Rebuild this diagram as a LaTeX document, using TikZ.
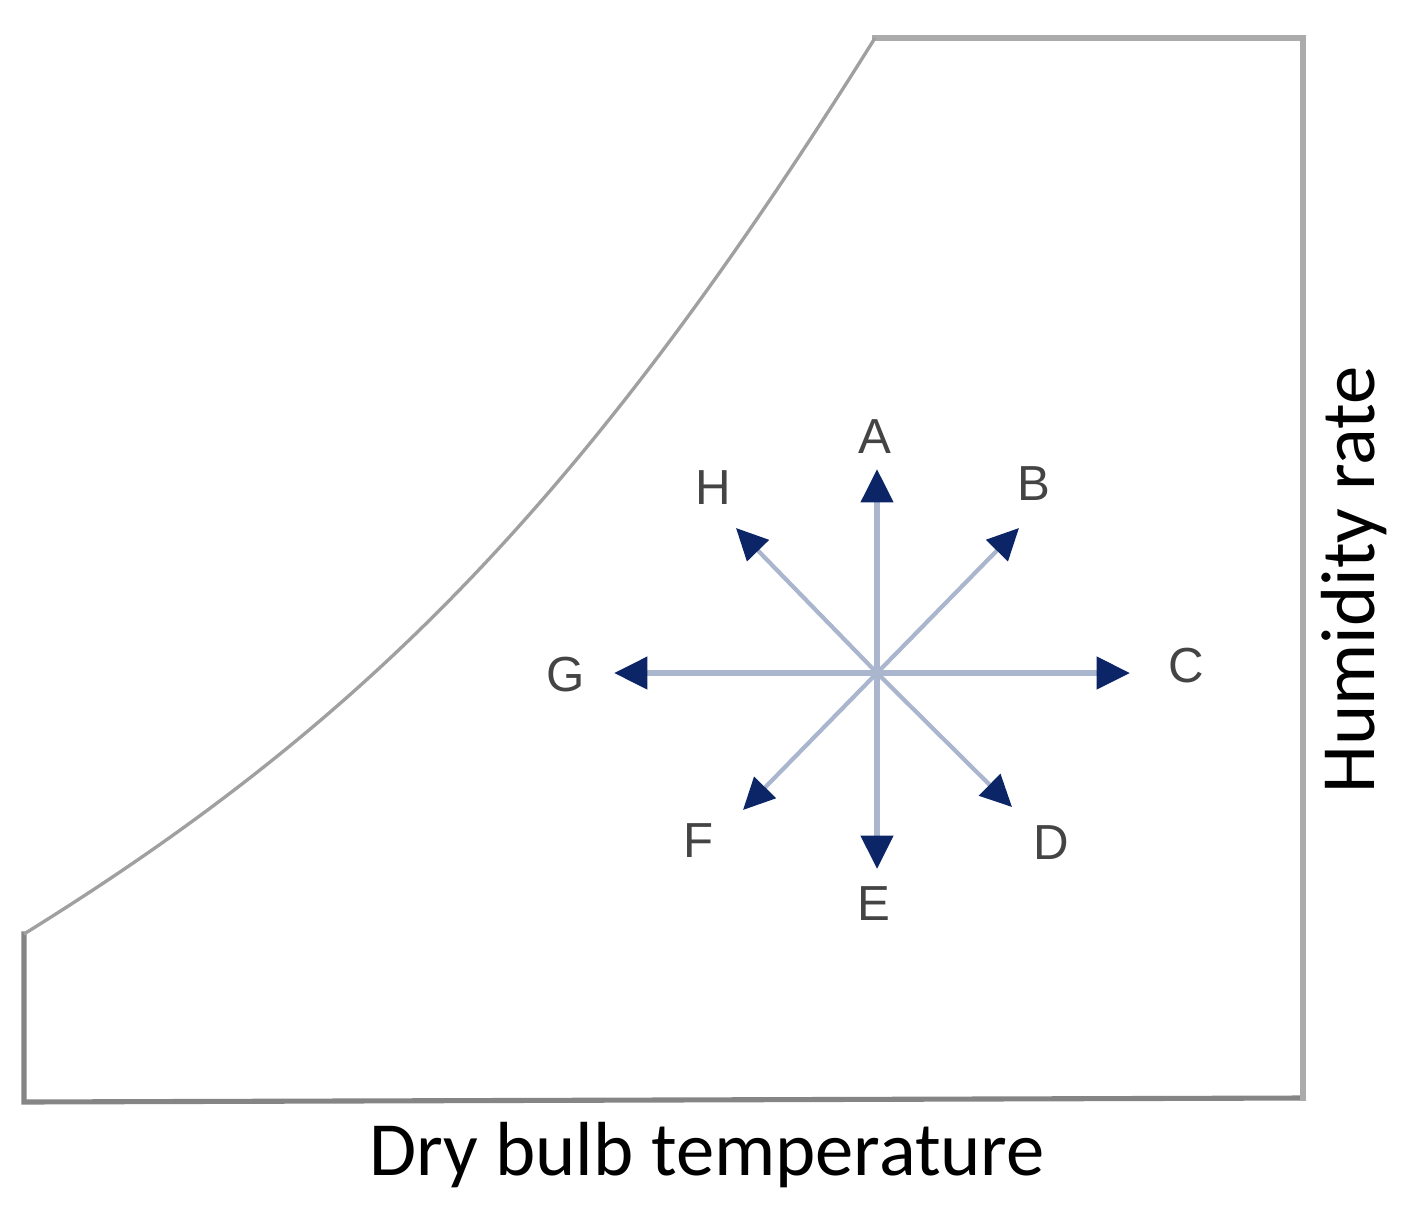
\documentclass[tikz,border=0pt]{standalone}
\usepackage{fontspec}
\setmainfont{Liberation Sans}
\newfontfamily\calib{Carlito}
\usetikzlibrary{arrows.meta}
\definecolor{framedark}{HTML}{858585}
\definecolor{framelight}{HTML}{ABABAB}
\definecolor{curvegray}{HTML}{A0A0A0}
\definecolor{arrowline}{HTML}{A9B6CE}
\definecolor{arrowhead}{HTML}{0B2566}
\definecolor{labgray}{HTML}{444444}
\tikzset{
  edgedark/.style={draw=framedark, line width=1.45pt, line cap=rect},
  edgelight/.style={draw=framelight, line width=1.45pt, line cap=rect},
  satcurve/.style={draw=curvegray, line width=0.95pt},
  straightarr/.style={draw=arrowline, line width=1.55pt,
    -{Triangle[length=9.5pt, width=9pt, color=arrowhead]}},
  diagarr/.style={draw=arrowline, line width=1.2pt,
    -{Triangle[length=9pt, width=8.5pt, color=arrowhead]}},
  lab/.style={text=labgray, font=\fontsize{14}{16}\selectfont, inner sep=0pt},
  axislab/.style={text=black, font=\calib\fontsize{21.8}{24}\selectfont, inner sep=0pt}
}
\begin{document}
\begin{tikzpicture}[x=0.01cm, y=-0.01cm]
\useasboundingbox (0,0) rectangle (1415,1212);
% frame of the chart
\coordinate (c0) at (24,934);
\coordinate (bl) at (24,1102);
\coordinate (br) at (1303,1098);
\coordinate (tr) at (1303,38);
\coordinate (tl) at (875,38);
\draw[edgedark] (c0) -- (bl) -- (br);
\draw[edgelight] (tl) -- (tr) -- (br);
\draw[satcurve] (c0) .. controls (364,723) and (585,502) .. (tl);
% arrows
\coordinate (o) at (877,673);
\coordinate (ta) at (877,469);
\coordinate (tb) at (1019,528);
\coordinate (tc) at (1130,673);
\coordinate (td) at (1012,807);
\coordinate (te) at (877,869);
\coordinate (tf) at (743,810);
\coordinate (tg) at (614,673);
\coordinate (th) at (736,528);
\draw[diagarr] (o) -- (tb);
\draw[diagarr] (o) -- (td);
\draw[diagarr] (o) -- (tf);
\draw[diagarr] (o) -- (th);
\draw[straightarr] (o) -- (ta);
\draw[straightarr] (o) -- (tc);
\draw[straightarr] (o) -- (te);
\draw[straightarr] (o) -- (tg);
% labels
\node[lab] (A) at (875,437) {A};
\node[lab] (B) at (1034,484) {B};
\node[lab] (C) at (1186,666) {C};
\node[lab] (D) at (1051,843) {D};
\node[lab] (E) at (874,904) {E};
\node[lab] (F) at (699,841) {F};
\node[lab] (G) at (566,675) {G};
\node[lab] (H) at (713,488) {H};
% axis titles
\node[axislab] (xt) at (707,1155) {Dry bulb temperature};
\node[axislab, rotate=90] (yt) at (1354,580) {Humidity rate};
\end{tikzpicture}
\end{document}
